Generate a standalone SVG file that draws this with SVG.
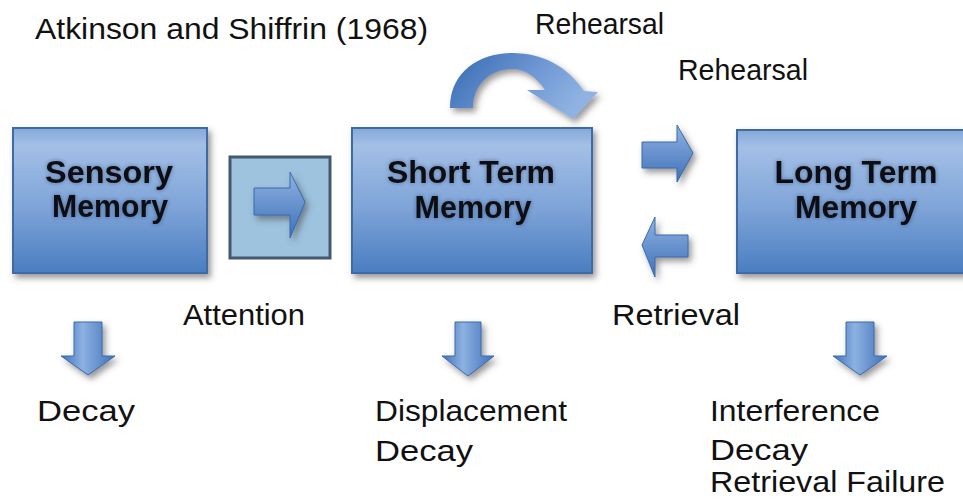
<svg xmlns="http://www.w3.org/2000/svg" width="963" height="499" viewBox="0 0 963 499">
  <defs>
    <style>
      .lbl { font-family: "Liberation Sans", Arial, sans-serif; font-size: 30px; fill: #111; }
      .head { font-family: "Liberation Sans", Arial, sans-serif; font-size: 31px; font-weight: bold; fill: #0b0b12; text-anchor: middle; }
      .box { fill: url(#boxGrad); stroke: #3f6aa3; stroke-width: 2; filter: url(#shadow); }
      .arrow { fill: url(#arrowGrad); stroke: #3a6aae; stroke-width: 1; filter: url(#shadow); }
      .darrow { fill: url(#downGrad); stroke: #3a6aae; stroke-width: 1; filter: url(#shadow); }
    </style>
    <linearGradient id="boxGrad" x1="0" y1="0" x2="0" y2="1">
      <stop offset="0" stop-color="#86a9d9"/>
      <stop offset="0.12" stop-color="#a3bfe6"/>
      <stop offset="0.55" stop-color="#7ea4d8"/>
      <stop offset="1" stop-color="#4a7dc1"/>
    </linearGradient>
    <linearGradient id="arrowGrad" x1="0" y1="0" x2="0" y2="1">
      <stop offset="0" stop-color="#8fb2e2"/>
      <stop offset="1" stop-color="#3f71b8"/>
    </linearGradient>
    <linearGradient id="downGrad" x1="0" y1="0" x2="1" y2="0">
      <stop offset="0" stop-color="#3f71b8"/>
      <stop offset="0.4" stop-color="#8db1e2"/>
      <stop offset="1" stop-color="#3f71b8"/>
    </linearGradient>
    <linearGradient id="curveGrad" x1="0" y1="0" x2="1" y2="0.4">
      <stop offset="0" stop-color="#3568b0"/>
      <stop offset="0.6" stop-color="#6f98d4"/>
      <stop offset="1" stop-color="#8fb2e2"/>
    </linearGradient>
    <filter id="shadow" x="-20%" y="-20%" width="150%" height="150%">
      <feDropShadow dx="3" dy="4" stdDeviation="3" flood-color="#444" flood-opacity="0.55"/>
    </filter>
    <!-- soft dark halo behind the bold store names -->
    <filter id="glow" x="-10%" y="-30%" width="120%" height="160%">
      <feGaussianBlur in="SourceAlpha" stdDeviation="2" result="b"/>
      <feFlood flood-color="#1a2336" flood-opacity="0.45"/>
      <feComposite in2="b" operator="in" result="g"/>
      <feMerge>
        <feMergeNode in="g"/>
        <feMergeNode in="SourceGraphic"/>
      </feMerge>
    </filter>
  </defs>

  <rect width="963" height="499" fill="#ffffff"/>

  <!-- title -->
  <text class="lbl" x="35" y="39" textLength="393" lengthAdjust="spacingAndGlyphs">Atkinson and Shiffrin (1968)</text>

  <!-- memory stores -->
  <g id="sensory">
    <rect class="box" x="13" y="128" width="194" height="145"/>
    <g filter="url(#glow)">
      <text class="head" x="109" y="183" textLength="128" lengthAdjust="spacingAndGlyphs">Sensory</text>
      <text class="head" x="110" y="217" textLength="116" lengthAdjust="spacingAndGlyphs">Memory</text>
    </g>
  </g>

  <g id="attention-gate">
    <rect x="230" y="157" width="100" height="101" fill="#9dc3de" stroke="#44596d" stroke-width="3"/>
    <path class="arrow" d="M254,188 L290,188 L290,172 L305,202 L290,238 L290,215 L254,215 Z"/>
  </g>

  <g id="stm">
    <rect class="box" x="352" y="128" width="240" height="145"/>
    <g filter="url(#glow)">
      <text class="head" x="471" y="183" textLength="168" lengthAdjust="spacingAndGlyphs">Short Term</text>
      <text class="head" x="473" y="218" textLength="117" lengthAdjust="spacingAndGlyphs">Memory</text>
    </g>
  </g>

  <g id="ltm">
    <rect class="box" x="737" y="130" width="240" height="143"/>
    <g filter="url(#glow)">
      <text class="head" x="856" y="183" textLength="163" lengthAdjust="spacingAndGlyphs">Long Term</text>
      <text class="head" x="856" y="218" textLength="122" lengthAdjust="spacingAndGlyphs">Memory</text>
    </g>
  </g>

  <!-- connectors -->
  <g id="connectors">
    <!-- maintenance rehearsal loop over STM -->
    <path fill="url(#curveGrad)" filter="url(#shadow)" d="M450,108 C450,72 479,53 512,53 C545,53 568,68 584,91 L598,92 L573,119 L527,90 L545,90 C536,77 526,69 512,69 C491,69 473,84 473,108 Z"/>
    <!-- STM to LTM -->
    <path class="arrow" d="M642,142 L677,142 L677,125 L693,153 L677,182 L677,168 L642,168 Z"/>
    <!-- LTM to STM -->
    <path class="arrow" d="M688,235 L655,235 L655,217 L642,245 L655,277 L655,257 L688,257 Z"/>
    <!-- forgetting arrows -->
    <path class="darrow" d="M74,322 L102,322 L102,356 L115,356 L88,375 L61,356 L74,356 Z"/>
    <path class="darrow" d="M455,322 L481,322 L481,356 L494,356 L468,376 L442,356 L455,356 Z"/>
    <path class="darrow" d="M846,322 L874,322 L874,356 L887,356 L860,375 L833,356 L846,356 Z"/>
  </g>

  <!-- process labels -->
  <text class="lbl" x="535" y="34" textLength="129" lengthAdjust="spacingAndGlyphs">Rehearsal</text>
  <text class="lbl" x="678" y="80" textLength="130" lengthAdjust="spacingAndGlyphs">Rehearsal</text>
  <text class="lbl" x="183" y="325" textLength="122" lengthAdjust="spacingAndGlyphs">Attention</text>
  <text class="lbl" x="612" y="325" textLength="128" lengthAdjust="spacingAndGlyphs">Retrieval</text>

  <!-- forgetting causes -->
  <text class="lbl" x="37" y="421" textLength="98" lengthAdjust="spacingAndGlyphs">Decay</text>
  <text class="lbl" x="375" y="421" textLength="192" lengthAdjust="spacingAndGlyphs">Displacement</text>
  <text class="lbl" x="375" y="461" textLength="98" lengthAdjust="spacingAndGlyphs">Decay</text>
  <text class="lbl" x="710" y="421" textLength="170" lengthAdjust="spacingAndGlyphs">Interference</text>
  <text class="lbl" x="710" y="460" textLength="98" lengthAdjust="spacingAndGlyphs">Decay</text>
  <text class="lbl" x="710" y="492" textLength="235" lengthAdjust="spacingAndGlyphs">Retrieval Failure</text>
</svg>
